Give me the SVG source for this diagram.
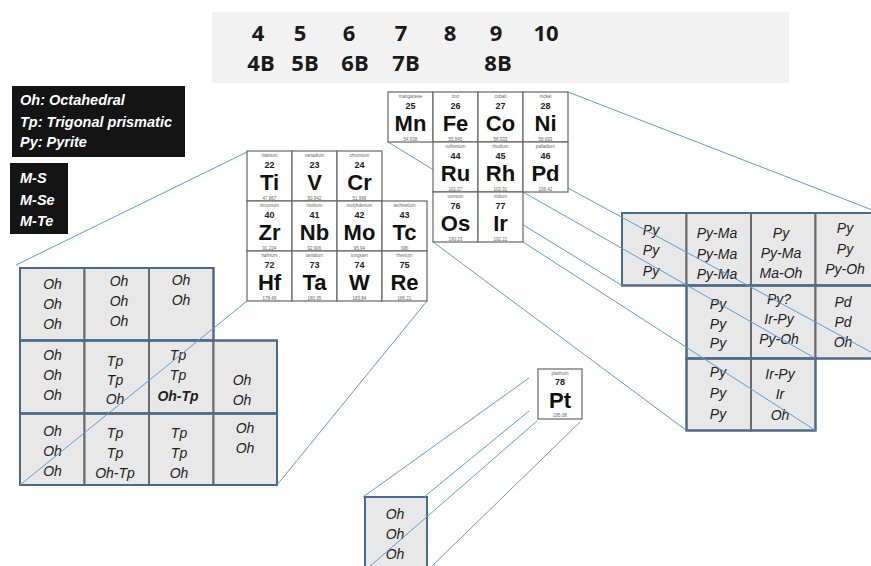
<svg xmlns="http://www.w3.org/2000/svg" width="871" height="566" viewBox="0 0 871 566">
<style>
.hd{font-family:"Open Sans","Liberation Sans",sans-serif;font-weight:700;font-size:22px;fill:#1a1a1a;text-anchor:middle}
.lg{font-family:"Liberation Sans",Arial,sans-serif;font-weight:700;font-style:italic;font-size:14.5px;fill:#fff}
.gc{fill:#e8e8e8;stroke:#6a6a6a;stroke-width:2}
.gr{fill:none;stroke:#4a6a8c;stroke-width:2}
.gt{font-family:"Liberation Sans",Arial,sans-serif;font-style:italic;font-size:14px;fill:#222;text-anchor:middle}
.gb{font-weight:700}
.cn{stroke:#5b9bd5;stroke-width:1;fill:none}
.pc{fill:#fff;stroke:#666;stroke-width:1.2}
.pn,.pm{font-family:"Liberation Sans",Arial,sans-serif;font-size:4.5px;fill:#666;text-anchor:middle}
.pz{font-family:"Liberation Sans",Arial,sans-serif;font-weight:700;font-size:9px;fill:#222;text-anchor:middle}
.ps{font-family:"Liberation Sans",Arial,sans-serif;font-weight:700;font-size:22px;fill:#111;text-anchor:middle}
</style>

<g id="header">
<rect x="212" y="12" width="577" height="71" fill="#f2f2f2"/>
<text class="hd" x="258" y="41">4</text>
<text class="hd" x="300" y="41">5</text>
<text class="hd" x="349" y="41">6</text>
<text class="hd" x="401" y="41">7</text>
<text class="hd" x="450" y="41">8</text>
<text class="hd" x="496" y="41">9</text>
<text class="hd" x="546" y="41">10</text>
<text class="hd" x="261" y="71">4B</text>
<text class="hd" x="305" y="71">5B</text>
<text class="hd" x="355" y="71">6B</text>
<text class="hd" x="406" y="71">7B</text>
<text class="hd" x="498" y="71">8B</text>
</g>

<g id="legend-structures">
<rect x="12" y="86" width="173" height="71" fill="#141414"/>
<text class="lg" x="20" y="105">Oh: Octahedral</text>
<text class="lg" x="20" y="127">Tp: Trigonal prismatic</text>
<text class="lg" x="20" y="147">Py: Pyrite</text>
</g>
<g id="legend-chalcogen">
<rect x="10" y="163" width="58" height="71" fill="#141414"/>
<text class="lg" x="20" y="183">M-S</text>
<text class="lg" x="20" y="205">M-Se</text>
<text class="lg" x="20" y="226">M-Te</text>
</g>

<g id="grid-left">
<rect class="gc" x="20" y="268" width="64.5" height="72.5"/>
<rect class="gc" x="84.5" y="268" width="64.5" height="72.5"/>
<rect class="gc" x="149" y="268" width="64.5" height="72.5"/>
<rect class="gc" x="20" y="340.5" width="64.5" height="73"/>
<rect class="gc" x="84.5" y="340.5" width="64.5" height="73"/>
<rect class="gc" x="149" y="340.5" width="64.5" height="73"/>
<rect class="gc" x="213.5" y="340.5" width="63.5" height="73"/>
<rect class="gc" x="20" y="413.5" width="64.5" height="71.5"/>
<rect class="gc" x="84.5" y="413.5" width="64.5" height="71.5"/>
<rect class="gc" x="149" y="413.5" width="64.5" height="71.5"/>
<rect class="gc" x="213.5" y="413.5" width="63.5" height="71.5"/>
<rect class="gr" x="20" y="268" width="193.5" height="72.5"/>
<rect class="gr" x="20" y="340.5" width="257" height="73"/>
<rect class="gr" x="20" y="413.5" width="257" height="71.5"/>
<text class="gt" x="52.5" y="288.5">Oh</text><text class="gt" x="52.5" y="308.5">Oh</text><text class="gt" x="52.5" y="328.5">Oh</text>
<text class="gt" x="119" y="286">Oh</text><text class="gt" x="119" y="306">Oh</text><text class="gt" x="119" y="326">Oh</text>
<text class="gt" x="181" y="285">Oh</text><text class="gt" x="181" y="305">Oh</text>
<text class="gt" x="52.5" y="360">Oh</text><text class="gt" x="52.5" y="380">Oh</text><text class="gt" x="52.5" y="400">Oh</text>
<text class="gt" x="115" y="366">Tp</text><text class="gt" x="115" y="385">Tp</text><text class="gt" x="115" y="404">Oh</text>
<text class="gt" x="178" y="360">Tp</text><text class="gt" x="178" y="380">Tp</text><text class="gt gb" x="178" y="401">Oh-Tp</text>
<text class="gt" x="242" y="385">Oh</text><text class="gt" x="242" y="405">Oh</text>
<text class="gt" x="52.5" y="436">Oh</text><text class="gt" x="52.5" y="456">Oh</text><text class="gt" x="52.5" y="476">Oh</text>
<text class="gt" x="115" y="437.5">Tp</text><text class="gt" x="115" y="457.5">Tp</text><text class="gt" x="115" y="477.5">Oh-Tp</text>
<text class="gt" x="179" y="437.5">Tp</text><text class="gt" x="179" y="458">Tp</text><text class="gt" x="179" y="477.5">Oh</text>
<text class="gt" x="245" y="432.5">Oh</text><text class="gt" x="245" y="452.5">Oh</text>
</g>

<g id="grid-right">
<rect class="gc" x="622" y="213" width="64.5" height="72.5"/>
<rect class="gc" x="686.5" y="213" width="64.5" height="72.5"/>
<rect class="gc" x="751" y="213" width="64.5" height="72.5"/>
<rect class="gc" x="815.5" y="213" width="64.5" height="72.5"/>
<rect class="gc" x="686.5" y="285.5" width="64.5" height="73"/>
<rect class="gc" x="751" y="285.5" width="64.5" height="73"/>
<rect class="gc" x="815.5" y="285.5" width="64.5" height="73"/>
<rect class="gc" x="686.5" y="358.5" width="64.5" height="72"/>
<rect class="gc" x="751" y="358.5" width="64.5" height="72"/>
<rect class="gr" x="622" y="213" width="258" height="72.5"/>
<rect class="gr" x="686.5" y="285.5" width="193.5" height="73"/>
<rect class="gr" x="686.5" y="358.5" width="129" height="72"/>
<text class="gt" x="651" y="234.5">Py</text><text class="gt" x="651" y="255">Py</text><text class="gt" x="651" y="275.5">Py</text>
<text class="gt" x="717" y="238">Py-Ma</text><text class="gt" x="717" y="258.5">Py-Ma</text><text class="gt" x="717" y="278.5">Py-Ma</text>
<text class="gt" x="781" y="238">Py</text><text class="gt" x="781" y="258">Py-Ma</text><text class="gt" x="781" y="277.5">Ma-Oh</text>
<text class="gt" x="845" y="233">Py</text><text class="gt" x="845" y="253.5">Py</text><text class="gt" x="845" y="273.5">Py-Oh</text>
<text class="gt" x="718" y="308.5">Py</text><text class="gt" x="718" y="328.5">Py</text><text class="gt" x="718" y="348">Py</text>
<text class="gt" x="779" y="304">Py?</text><text class="gt" x="779" y="323.5">Ir-Py</text><text class="gt" x="779" y="343.5">Py-Oh</text>
<text class="gt" x="843" y="307">Pd</text><text class="gt" x="843" y="327">Pd</text><text class="gt" x="843" y="347">Oh</text>
<text class="gt" x="718" y="377">Py</text><text class="gt" x="718" y="398">Py</text><text class="gt" x="718" y="419">Py</text>
<text class="gt" x="780" y="378.5">Ir-Py</text><text class="gt" x="780" y="398.5">Ir</text><text class="gt" x="780" y="419.5">Oh</text>
</g>

<g id="grid-pt">
<rect class="gc" x="365" y="497" width="62" height="73"/>
<rect class="gr" x="365" y="497" width="62" height="73"/>
<text class="gt" x="395" y="519">Oh</text><text class="gt" x="395" y="539">Oh</text><text class="gt" x="395" y="559">Oh</text>
</g>

<g id="connectors">
<line class="cn" x1="247" y1="152" x2="16" y2="265"/>
<line class="cn" x1="247" y1="301" x2="20" y2="485"/>
<line class="cn" x1="427" y1="301" x2="277" y2="485"/>
<line class="cn" x1="568" y1="92" x2="880" y2="213"/>
<line class="cn" x1="388" y1="142" x2="622" y2="285.5"/>
<line class="cn" x1="566" y1="187" x2="880" y2="357"/>
<line class="cn" x1="523" y1="192" x2="815.5" y2="358.5"/>
<line class="cn" x1="433" y1="242" x2="686.5" y2="430.5"/>
<line class="cn" x1="523" y1="242" x2="815.5" y2="430.5"/>
<line class="cn" x1="529" y1="378" x2="363" y2="497"/>
<line class="cn" x1="529" y1="411" x2="424" y2="497"/>
<line class="cn" x1="537" y1="421" x2="368" y2="568"/>
<line class="cn" x1="580" y1="422" x2="430" y2="568"/>
</g>

<g id="table-left">
<g id="el-Ti" transform="translate(247,151)"><rect class="pc" width="45" height="50"/><text class="pn" x="22.5" y="5.5">titanium</text><text class="pz" x="22.5" y="16.5">22</text><text class="ps" x="22.5" y="39">Ti</text><text class="pm" x="22.5" y="48.5">47.867</text></g>
<g id="el-V" transform="translate(292,151)"><rect class="pc" width="45" height="50"/><text class="pn" x="22.5" y="5.5">vanadium</text><text class="pz" x="22.5" y="16.5">23</text><text class="ps" x="22.5" y="39">V</text><text class="pm" x="22.5" y="48.5">50.942</text></g>
<g id="el-Cr" transform="translate(337,151)"><rect class="pc" width="45" height="50"/><text class="pn" x="22.5" y="5.5">chromium</text><text class="pz" x="22.5" y="16.5">24</text><text class="ps" x="22.5" y="39">Cr</text><text class="pm" x="22.5" y="48.5">51.996</text></g>
<g id="el-Zr" transform="translate(247,201)"><rect class="pc" width="45" height="50"/><text class="pn" x="22.5" y="5.5">zirconium</text><text class="pz" x="22.5" y="16.5">40</text><text class="ps" x="22.5" y="39">Zr</text><text class="pm" x="22.5" y="48.5">91.224</text></g>
<g id="el-Nb" transform="translate(292,201)"><rect class="pc" width="45" height="50"/><text class="pn" x="22.5" y="5.5">niobium</text><text class="pz" x="22.5" y="16.5">41</text><text class="ps" x="22.5" y="39">Nb</text><text class="pm" x="22.5" y="48.5">92.906</text></g>
<g id="el-Mo" transform="translate(337,201)"><rect class="pc" width="45" height="50"/><text class="pn" x="22.5" y="5.5">molybdenum</text><text class="pz" x="22.5" y="16.5">42</text><text class="ps" x="22.5" y="39">Mo</text><text class="pm" x="22.5" y="48.5">95.94</text></g>
<g id="el-Tc" transform="translate(382,201)"><rect class="pc" width="45" height="50"/><text class="pn" x="22.5" y="5.5">technetium</text><text class="pz" x="22.5" y="16.5">43</text><text class="ps" x="22.5" y="39">Tc</text><text class="pm" x="22.5" y="48.5">[98]</text></g>
<g id="el-Hf" transform="translate(247,251)"><rect class="pc" width="45" height="50"/><text class="pn" x="22.5" y="5.5">hafnium</text><text class="pz" x="22.5" y="16.5">72</text><text class="ps" x="22.5" y="39">Hf</text><text class="pm" x="22.5" y="48.5">178.49</text></g>
<g id="el-Ta" transform="translate(292,251)"><rect class="pc" width="45" height="50"/><text class="pn" x="22.5" y="5.5">tantalum</text><text class="pz" x="22.5" y="16.5">73</text><text class="ps" x="22.5" y="39">Ta</text><text class="pm" x="22.5" y="48.5">180.95</text></g>
<g id="el-W" transform="translate(337,251)"><rect class="pc" width="45" height="50"/><text class="pn" x="22.5" y="5.5">tungsten</text><text class="pz" x="22.5" y="16.5">74</text><text class="ps" x="22.5" y="39">W</text><text class="pm" x="22.5" y="48.5">183.84</text></g>
<g id="el-Re" transform="translate(382,251)"><rect class="pc" width="45" height="50"/><text class="pn" x="22.5" y="5.5">rhenium</text><text class="pz" x="22.5" y="16.5">75</text><text class="ps" x="22.5" y="39">Re</text><text class="pm" x="22.5" y="48.5">186.21</text></g>
</g>

<g id="table-right">
<g id="el-Mn" transform="translate(388,92)"><rect class="pc" width="45" height="50"/><text class="pn" x="22.5" y="5.5">manganese</text><text class="pz" x="22.5" y="16.5">25</text><text class="ps" x="22.5" y="39">Mn</text><text class="pm" x="22.5" y="48.5">54.938</text></g>
<g id="el-Fe" transform="translate(433,92)"><rect class="pc" width="45" height="50"/><text class="pn" x="22.5" y="5.5">iron</text><text class="pz" x="22.5" y="16.5">26</text><text class="ps" x="22.5" y="39">Fe</text><text class="pm" x="22.5" y="48.5">55.845</text></g>
<g id="el-Co" transform="translate(478,92)"><rect class="pc" width="45" height="50"/><text class="pn" x="22.5" y="5.5">cobalt</text><text class="pz" x="22.5" y="16.5">27</text><text class="ps" x="22.5" y="39">Co</text><text class="pm" x="22.5" y="48.5">58.933</text></g>
<g id="el-Ni" transform="translate(523,92)"><rect class="pc" width="45" height="50"/><text class="pn" x="22.5" y="5.5">nickel</text><text class="pz" x="22.5" y="16.5">28</text><text class="ps" x="22.5" y="39">Ni</text><text class="pm" x="22.5" y="48.5">58.693</text></g>
<g id="el-Ru" transform="translate(433,142)"><rect class="pc" width="45" height="50"/><text class="pn" x="22.5" y="5.5">ruthenium</text><text class="pz" x="22.5" y="16.5">44</text><text class="ps" x="22.5" y="39">Ru</text><text class="pm" x="22.5" y="48.5">101.07</text></g>
<g id="el-Rh" transform="translate(478,142)"><rect class="pc" width="45" height="50"/><text class="pn" x="22.5" y="5.5">rhodium</text><text class="pz" x="22.5" y="16.5">45</text><text class="ps" x="22.5" y="39">Rh</text><text class="pm" x="22.5" y="48.5">102.91</text></g>
<g id="el-Pd" transform="translate(523,142)"><rect class="pc" width="45" height="50"/><text class="pn" x="22.5" y="5.5">palladium</text><text class="pz" x="22.5" y="16.5">46</text><text class="ps" x="22.5" y="39">Pd</text><text class="pm" x="22.5" y="48.5">106.42</text></g>
<g id="el-Os" transform="translate(433,192)"><rect class="pc" width="45" height="50"/><text class="pn" x="22.5" y="5.5">osmium</text><text class="pz" x="22.5" y="16.5">76</text><text class="ps" x="22.5" y="39">Os</text><text class="pm" x="22.5" y="48.5">190.23</text></g>
<g id="el-Ir" transform="translate(478,192)"><rect class="pc" width="45" height="50"/><text class="pn" x="22.5" y="5.5">iridium</text><text class="pz" x="22.5" y="16.5">77</text><text class="ps" x="22.5" y="39">Ir</text><text class="pm" x="22.5" y="48.5">192.22</text></g>
</g>

<g id="el-Pt" transform="translate(538,369)"><rect class="pc" width="44" height="50" stroke="#222" stroke-width="2"/><text class="pn" x="22" y="5.5">platinum</text><text class="pz" x="22" y="16">78</text><text class="ps" x="22" y="38.5">Pt</text><text class="pm" x="22" y="48">195.08</text></g>
</svg>
